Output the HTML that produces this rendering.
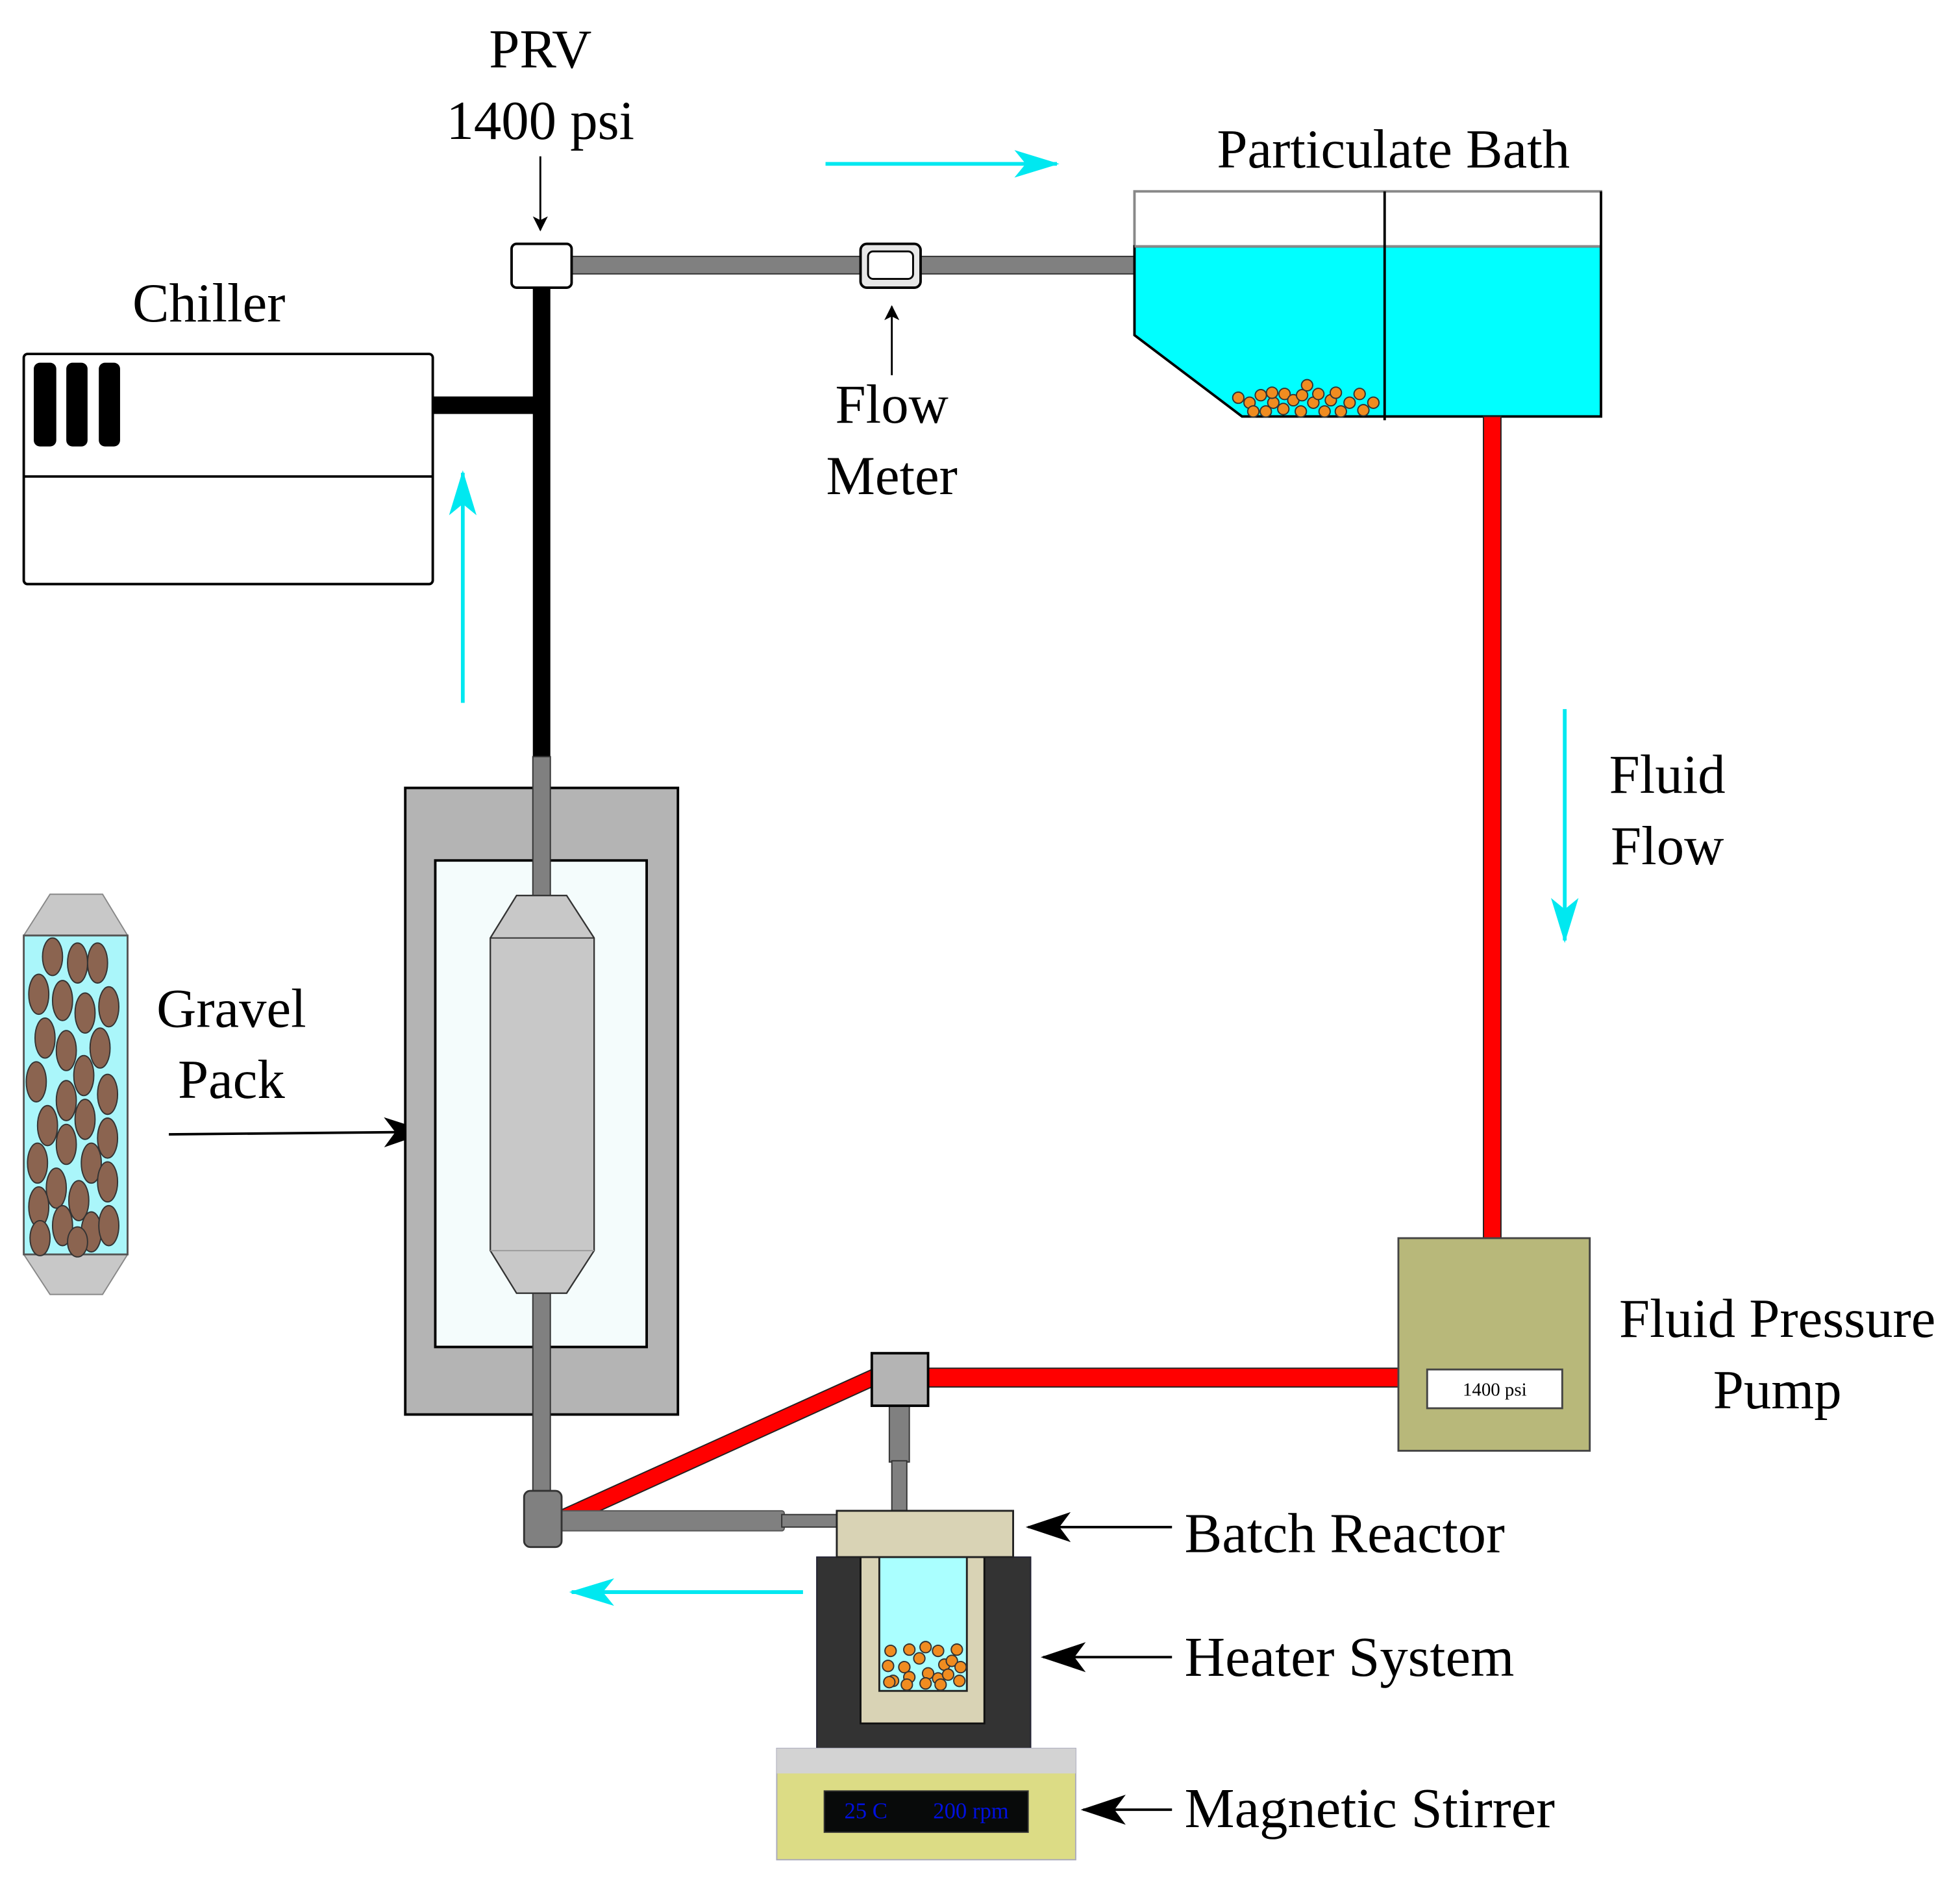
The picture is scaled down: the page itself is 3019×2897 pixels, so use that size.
<!DOCTYPE html>
<html><head><meta charset="utf-8"><style>html,body{margin:0;padding:0;background:#fff}svg{display:block}</style></head>
<body>
<svg width="3019" height="2897" viewBox="0 0 1567 1504" preserveAspectRatio="none" xmlns="http://www.w3.org/2000/svg" font-family="Liberation Serif, serif">
<defs>
<marker id="ah" markerWidth="12" markerHeight="12" refX="11" refY="6" orient="auto" markerUnits="userSpaceOnUse"><path d="M0,0 L12,6 L0,12 L3,6 Z" fill="#000"/></marker>
<marker id="ahb" markerWidth="36" markerHeight="24" refX="34" refY="12" orient="auto" markerUnits="userSpaceOnUse"><path d="M0,0 L36,12 L0,24 L9,12 Z" fill="#000"/></marker>
<marker id="ahc" markerWidth="36" markerHeight="22" refX="34" refY="11" orient="auto" markerUnits="userSpaceOnUse"><path d="M0,0 L36,11 L0,22 L9,11 Z" fill="#00e8f0"/></marker>
</defs>

<g font-size="44" fill="#000" text-anchor="middle">
<text x="432" y="54">PRV</text>
<text x="432" y="111">1400 psi</text>
<text x="167" y="257">Chiller</text>
<text x="1114" y="134">Particulate Bath</text>
<text x="713" y="338">Flow</text>
<text x="713" y="395">Meter</text>
<text x="1333" y="634">Fluid</text>
<text x="1333" y="691">Flow</text>
<text x="185" y="821">Gravel</text>
<text x="185" y="878">Pack</text>
<text x="1421" y="1069">Fluid Pressure</text>
<text x="1421" y="1126">Pump</text>
</g>
<g font-size="45" fill="#000">
<text x="947" y="1241">Batch Reactor</text>
<text x="947" y="1340">Heater System</text>
<text x="947" y="1461">Magnetic Stirrer</text>
</g>

<line x1="432" y1="125" x2="432" y2="184" stroke="#000" stroke-width="1.5" marker-end="url(#ah)"/>
<line x1="713" y1="300" x2="713" y2="245" stroke="#000" stroke-width="1.5" marker-end="url(#ah)"/>
<line x1="135" y1="907" x2="341" y2="905" stroke="#000" stroke-width="2" marker-end="url(#ahb)"/>
<line x1="937" y1="1221" x2="822" y2="1221" stroke="#000" stroke-width="2" marker-end="url(#ahb)"/>
<line x1="937" y1="1325" x2="834" y2="1325" stroke="#000" stroke-width="2" marker-end="url(#ahb)"/>
<line x1="937" y1="1447" x2="866" y2="1447" stroke="#000" stroke-width="2" marker-end="url(#ahb)"/>

<g stroke="#00e8f0" stroke-width="3">
<line x1="660" y1="131" x2="845" y2="131" marker-end="url(#ahc)"/>
<line x1="370" y1="562" x2="370" y2="378" marker-end="url(#ahc)"/>
<line x1="1251" y1="567" x2="1251" y2="752" marker-end="url(#ahc)"/>
<line x1="642" y1="1273" x2="457" y2="1273" marker-end="url(#ahc)"/>
</g>

<rect x="19" y="283" width="327" height="184" rx="3" fill="#fff" stroke="#000" stroke-width="2"/>
<line x1="19" y1="381" x2="346" y2="381" stroke="#000" stroke-width="2"/>
<rect x="27" y="290" width="18" height="67" rx="5" fill="#000"/>
<rect x="53" y="290" width="17" height="67" rx="5" fill="#000"/>
<rect x="79" y="290" width="17" height="67" rx="5" fill="#000"/>
<rect x="346" y="317" width="86" height="14" fill="#000"/>
<rect x="426" y="228" width="14" height="378" fill="#000"/>

<rect x="455" y="205" width="454" height="14" fill="#808080" stroke="#333" stroke-width="1"/>
<rect x="409" y="195" width="48" height="35" rx="4" fill="#fff" stroke="#000" stroke-width="2"/>
<rect x="688" y="195" width="48" height="35" rx="5" fill="#e8e8e8" stroke="#000" stroke-width="2"/>
<rect x="694" y="201" width="36" height="22" rx="4" fill="#fff" stroke="#000" stroke-width="1.5"/>

<rect x="907" y="153" width="373" height="44" fill="#fff" stroke="#888" stroke-width="2"/>
<polygon points="907,197 1280,197 1280,333 993,333 907,268" fill="#00ffff" stroke="#000" stroke-width="2"/>
<line x1="907" y1="197" x2="1280" y2="197" stroke="#888" stroke-width="2"/>
<line x1="1107" y1="153" x2="1107" y2="336" stroke="#000" stroke-width="2"/>
<line x1="1280" y1="153" x2="1280" y2="333" stroke="#000" stroke-width="2"/>
<g fill="#f08c20" stroke="#333" stroke-width="1">
<circle cx="990" cy="318" r="4.5"/><circle cx="999" cy="322" r="4.5"/><circle cx="1008" cy="316" r="4.5"/><circle cx="1002" cy="329" r="4.5"/>
<circle cx="1012" cy="329" r="4.5"/><circle cx="1018" cy="322" r="4.5"/><circle cx="1027" cy="315" r="4.5"/><circle cx="1026" cy="327" r="4.5"/>
<circle cx="1034" cy="320" r="4.5"/><circle cx="1041" cy="316" r="4.5"/><circle cx="1045" cy="308" r="4.5"/><circle cx="1040" cy="329" r="4.5"/>
<circle cx="1050" cy="322" r="4.5"/><circle cx="1054" cy="315" r="4.5"/><circle cx="1059" cy="329" r="4.5"/><circle cx="1064" cy="320" r="4.5"/>
<circle cx="1068" cy="314" r="4.5"/><circle cx="1072" cy="329" r="4.5"/><circle cx="1079" cy="322" r="4.5"/><circle cx="1087" cy="315" r="4.5"/>
<circle cx="1090" cy="328" r="4.5"/><circle cx="1098" cy="322" r="4.5"/><circle cx="1017" cy="314" r="4.5"/>
</g>

<rect x="1186" y="333" width="14" height="658" fill="#ff0000" stroke="#222" stroke-width="1"/>
<rect x="740" y="1094" width="379" height="15" fill="#ff0000" stroke="#222" stroke-width="1"/>
<polygon points="445,1209 697,1095 697,1109 451,1221" fill="#ff0000" stroke="#222" stroke-width="1"/>

<rect x="1118" y="990" width="153" height="170" fill="#b8b87a" stroke="#444" stroke-width="1.5"/>
<rect x="1141" y="1095" width="108" height="31" fill="#fff" stroke="#444" stroke-width="1.5"/>
<text x="1195" y="1116" font-size="15" text-anchor="middle" fill="#000">1400 psi</text>

<rect x="711" y="1124" width="16" height="45" fill="#808080" stroke="#333" stroke-width="1"/>
<rect x="713" y="1168" width="12" height="41" fill="#808080" stroke="#333" stroke-width="1"/>
<rect x="697" y="1082" width="45" height="42" fill="#b4b4b4" stroke="#000" stroke-width="2"/>

<rect x="324" y="630" width="218" height="501" fill="#b4b4b4" stroke="#000" stroke-width="2"/>
<rect x="348" y="688" width="169" height="389" fill="#f4fcfc" stroke="#000" stroke-width="2"/>
<rect x="426" y="605" width="14" height="112" fill="#808080" stroke="#333" stroke-width="1"/>
<rect x="426" y="1033" width="14" height="162" fill="#808080" stroke="#333" stroke-width="1"/>
<polygon points="392,750 413,716 453,716 475,750 475,1000 453,1034 413,1034 392,1000" fill="#c8c8c8" stroke="#333" stroke-width="1.2"/>
<line x1="392" y1="750" x2="475" y2="750" stroke="#333" stroke-width="1"/>
<line x1="392" y1="1000" x2="475" y2="1000" stroke="#999" stroke-width="1"/>

<rect x="447" y="1208" width="180" height="16" rx="2" fill="#808080" stroke="#555" stroke-width="1"/>
<rect x="625" y="1211" width="46" height="10" fill="#808080" stroke="#333" stroke-width="1"/>
<rect x="419" y="1192" width="30" height="45" rx="5" fill="#808080" stroke="#333" stroke-width="1.5"/>

<polygon points="19,748 40,715 82,715 102,748 102,1003 82,1035 40,1035 19,1003" fill="#c8c8c8" stroke="#888" stroke-width="1"/>
<rect x="19" y="748" width="83" height="255" fill="#aaf6fa" stroke="#555" stroke-width="1.5"/>
<g fill="#8b6450" stroke="#333" stroke-width="1">
<ellipse cx="42" cy="765" rx="8" ry="15"/><ellipse cx="62" cy="770" rx="8" ry="16"/><ellipse cx="78" cy="770" rx="8" ry="16"/>
<ellipse cx="31" cy="795" rx="8" ry="16"/><ellipse cx="50" cy="800" rx="8" ry="16"/><ellipse cx="68" cy="810" rx="8" ry="16"/><ellipse cx="87" cy="805" rx="8" ry="16"/>
<ellipse cx="36" cy="830" rx="8" ry="16"/><ellipse cx="53" cy="840" rx="8" ry="16"/><ellipse cx="80" cy="838" rx="8" ry="16"/>
<ellipse cx="29" cy="865" rx="8" ry="16"/><ellipse cx="67" cy="860" rx="8" ry="16"/><ellipse cx="86" cy="875" rx="8" ry="16"/>
<ellipse cx="38" cy="900" rx="8" ry="16"/><ellipse cx="53" cy="880" rx="8" ry="16"/><ellipse cx="68" cy="895" rx="8" ry="16"/>
<ellipse cx="30" cy="930" rx="8" ry="16"/><ellipse cx="53" cy="915" rx="8" ry="16"/><ellipse cx="86" cy="910" rx="8" ry="16"/><ellipse cx="73" cy="930" rx="8" ry="16"/>
<ellipse cx="45" cy="950" rx="8" ry="16"/><ellipse cx="31" cy="965" rx="8" ry="16"/><ellipse cx="63" cy="960" rx="8" ry="16"/><ellipse cx="86" cy="945" rx="8" ry="16"/>
<ellipse cx="50" cy="980" rx="8" ry="16"/><ellipse cx="73" cy="985" rx="8" ry="16"/><ellipse cx="87" cy="980" rx="8" ry="16"/>
<ellipse cx="32" cy="990" rx="8" ry="14"/><ellipse cx="62" cy="993" rx="8" ry="12"/>
</g>

<rect x="653" y="1245" width="171" height="153" fill="#333" stroke="#223" stroke-width="1"/>
<rect x="688" y="1245" width="99" height="133" fill="#d9d3b5" stroke="#111" stroke-width="1.5"/>
<rect x="703" y="1245" width="70" height="107" fill="#aaffff" stroke="#222" stroke-width="1.5"/>
<g fill="#f08c20" stroke="#333" stroke-width="1">
<circle cx="712" cy="1320" r="4.5"/><circle cx="727" cy="1319" r="4.5"/><circle cx="740" cy="1317" r="4.5"/><circle cx="750" cy="1320" r="4.5"/><circle cx="765" cy="1319" r="4.5"/>
<circle cx="710" cy="1332" r="4.5"/><circle cx="723" cy="1333" r="4.5"/><circle cx="735" cy="1326" r="4.5"/><circle cx="755" cy="1331" r="4.5"/><circle cx="761" cy="1328" r="4.5"/><circle cx="768" cy="1333" r="4.5"/>
<circle cx="714" cy="1344" r="4.5"/><circle cx="727" cy="1341" r="4.5"/><circle cx="742" cy="1338" r="4.5"/><circle cx="750" cy="1342" r="4.5"/><circle cx="758" cy="1339" r="4.5"/><circle cx="767" cy="1344" r="4.5"/>
<circle cx="711" cy="1345" r="4.5"/><circle cx="725" cy="1347" r="4.5"/><circle cx="740" cy="1346" r="4.5"/><circle cx="752" cy="1347" r="4.5"/>
</g>
<rect x="669" y="1208" width="141" height="37" fill="#d9d3b5" stroke="#222" stroke-width="1.5"/>
<rect x="621" y="1398" width="239" height="89" fill="#dcdc85" stroke="#aab" stroke-width="1"/>
<rect x="621" y="1398" width="239" height="20" fill="#d3d3d3"/>
<rect x="659" y="1432" width="163" height="33" fill="#080a0a" stroke="#333" stroke-width="1"/>
<text x="675" y="1454" font-size="18" fill="#0010e0">25 C</text>
<text x="746" y="1454" font-size="18" fill="#0010e0">200 rpm</text>
</svg>
</body></html>
